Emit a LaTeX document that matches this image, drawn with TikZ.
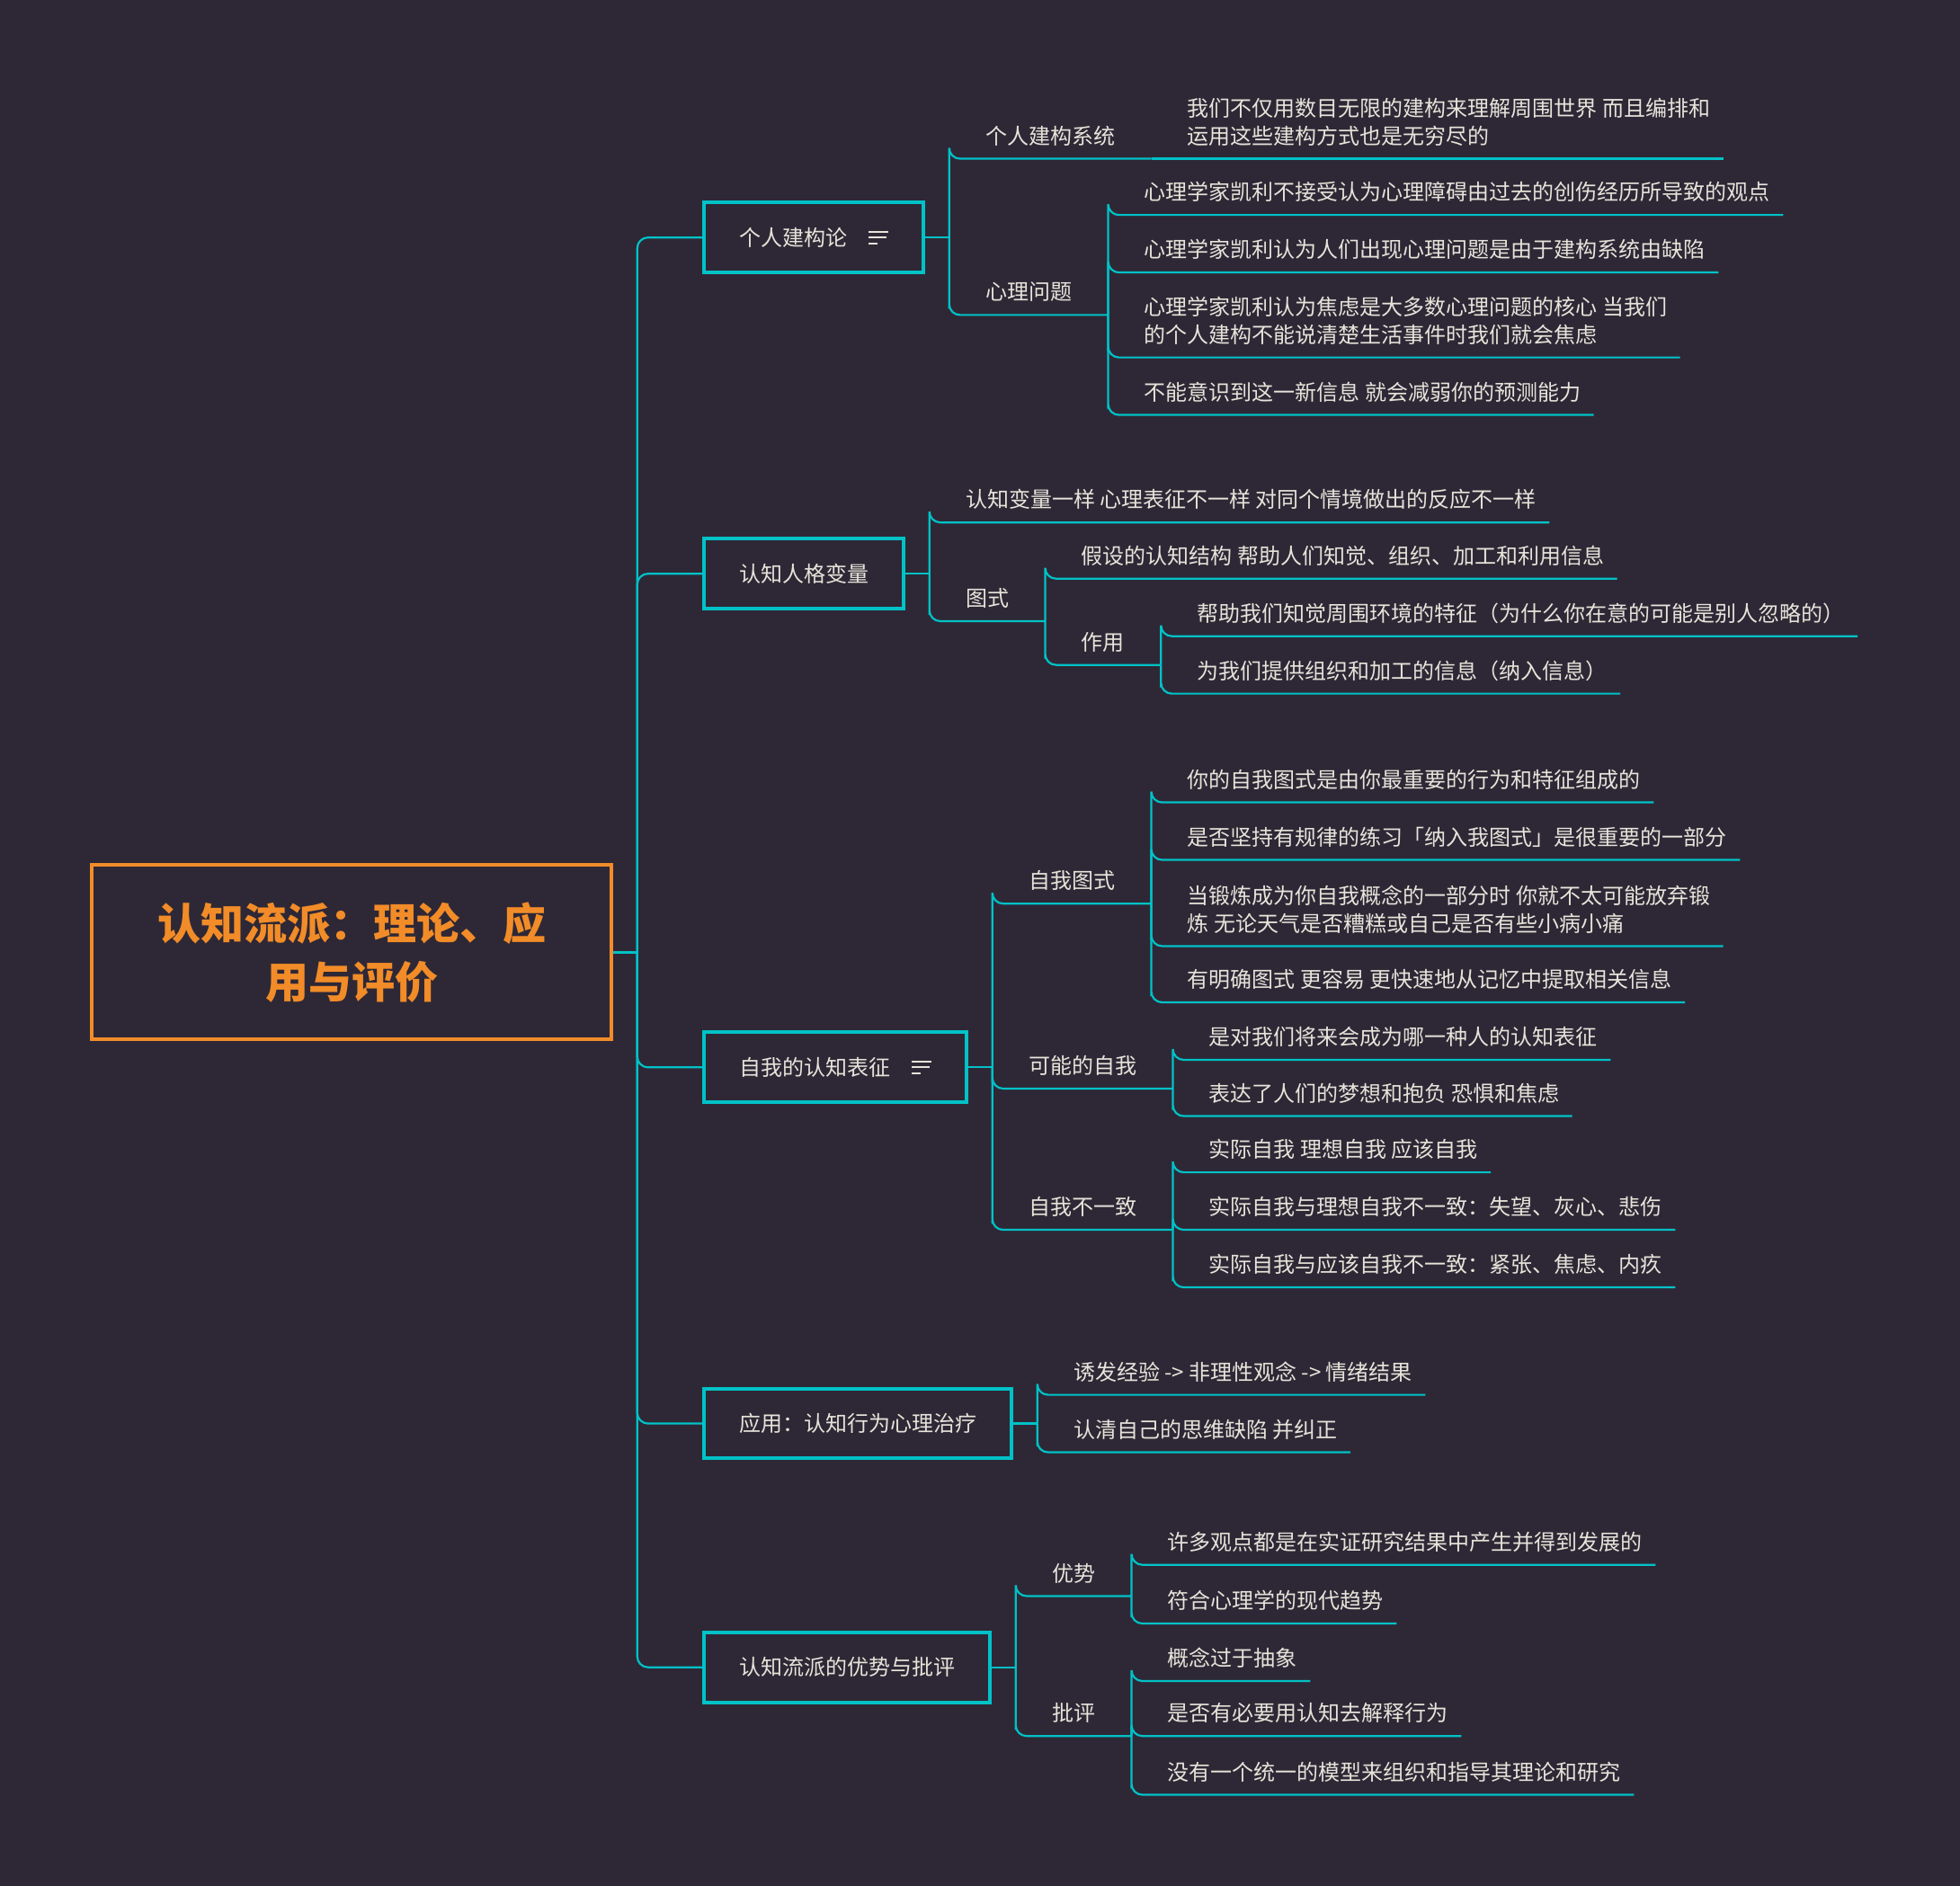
\documentclass[tikz,border=0pt]{standalone}
\usepackage{fontspec}
\setmainfont{Noto Sans CJK SC}
\usepackage{tikz}

\definecolor{bgpurple}{HTML}{2E2836}
\definecolor{branchteal}{HTML}{00C2C7}
\definecolor{rootorange}{HTML}{F28C28}
\definecolor{inkgray}{HTML}{E6E4DA}

% three-bar notes icon
\newcommand{\noteicon}{\raisebox{0.8pt}{\vbox{\hrule width 11pt height 1pt\vskip 2.3pt
  \hrule width 10pt height 1pt\vskip 2.3pt\hrule width 5pt height 1pt}}}

\begin{document}
\begin{tikzpicture}[x=0.6952pt,y=-0.6952pt,
      every node/.style={text=inkgray,font=\fontsize{12}{15.3}\selectfont},
      rootbox/.style={draw=rootorange,line width=2pt,minimum width=289pt,minimum height=97pt,
        align=center,text=rootorange,font=\fontsize{24}{32.7}\selectfont\bfseries},
      mainbox/.style={draw=branchteal,line width=2pt,anchor=west,minimum height=38.9pt,inner xsep=19.5pt},
      topic/.style={anchor=south west,inner xsep=20pt,inner ysep=5pt,text height=9pt,text depth=3pt,align=left},
      leaf/.style={topic,inner xsep=7pt,xshift=13pt},
      conn/.style={draw=branchteal,line width=1.1pt,rounded corners=6pt}]
    \fill[bgpurple] (0,0) rectangle (1568,1509);
    \useasboundingbox (0,0) rectangle (1568,1509);

    % root and trunk
    \node[rootbox] (root) at (281.5,762) {认知流派：理论、应\\用与评价};
    \coordinate (hub) at ([shift={(19,0)}]root.east);
    \draw[conn] (root.east) -- (hub);

    \node[mainbox] (b1) at (562,190) {个人建构论\quad\noteicon};
    \node[mainbox] (b2) at (562,459) {认知人格变量};
    \node[mainbox] (b3) at (562,854) {自我的认知表征\quad\noteicon};
    \node[mainbox] (b4) at (562,1139) {应用：认知行为心理治疗};
    \node[mainbox] (b5) at (562,1334) {认知流派的优势与批评};
    \foreach \b in {b1,b2,b3,b4,b5} {
      \draw[conn] (hub) |- (\b.west);
      \coordinate (j\b) at ([shift={(19,0)}]\b.east);
      \draw[conn] (\b.east) -- (j\b);
    }

    % 个人建构论
    \node[topic] (g1) at (jb1 |- 0,127) {个人建构系统};
    \node[leaf] (g1a) at (g1.south east) {我们不仅用数目无限的建构来理解周围世界 而且编排和\\运用这些建构方式也是无穷尽的};
    \node[topic] (g2) at (jb1 |- 0,252) {心理问题};
    \node[leaf] (g2a) at (g2.south east |- 0,172) {心理学家凯利不接受认为心理障碍由过去的创伤经历所导致的观点};
    \node[leaf] (g2b) at (g2.south east |- 0,218) {心理学家凯利认为人们出现心理问题是由于建构系统由缺陷};
    \node[leaf] (g2c) at (g2.south east |- 0,286) {心理学家凯利认为焦虑是大多数心理问题的核心 当我们\\的个人建构不能说清楚生活事件时我们就会焦虑};
    \node[leaf] (g2d) at (g2.south east |- 0,332) {不能意识到这一新信息 就会减弱你的预测能力};
    \foreach \c in {g1,g2}
      \draw[conn] (jb1) |- (\c.south west) -- (\c.south east);
    \draw[conn] (g1.south east) -- (g1a.south east);
    \foreach \c in {g2a,g2b,g2c,g2d}
      \draw[conn] (g2.south east) |- ([xshift=-13pt]\c.south west) -- (\c.south east);

    % 认知人格变量
    \node[leaf] (h1) at (jb2 |- 0,418) {认知变量一样 心理表征不一样 对同个情境做出的反应不一样};
    \node[topic] (h2) at (jb2 |- 0,497) {图式};
    \node[leaf] (h2a) at (h2.south east |- 0,463) {假设的认知结构 帮助人们知觉、组织、加工和利用信息};
    \node[topic] (h2b) at (h2.south east |- 0,532) {作用};
    \node[leaf] (h2b1) at (h2b.south east |- 0,509) {帮助我们知觉周围环境的特征（为什么你在意的可能是别人忽略的）};
    \node[leaf] (h2b2) at (h2b.south east |- 0,555) {为我们提供组织和加工的信息（纳入信息）};
    \draw[conn] (jb2) |- ([xshift=-13pt]h1.south west) -- (h1.south east);
    \draw[conn] (jb2) |- (h2.south west) -- (h2.south east);
    \draw[conn] (h2.south east) |- ([xshift=-13pt]h2a.south west) -- (h2a.south east);
    \draw[conn] (h2.south east) |- (h2b.south west) -- (h2b.south east);
    \foreach \c in {h2b1,h2b2}
      \draw[conn] (h2b.south east) |- ([xshift=-13pt]\c.south west) -- (\c.south east);

    % 自我的认知表征
    \node[topic] (k1) at (jb3 |- 0,723) {自我图式};
    \node[leaf] (k1a) at (k1.south east |- 0,642) {你的自我图式是由你最重要的行为和特征组成的};
    \node[leaf] (k1b) at (k1.south east |- 0,688) {是否坚持有规律的练习「纳入我图式」是很重要的一部分};
    \node[leaf] (k1c) at (k1.south east |- 0,757) {当锻炼成为你自我概念的一部分时 你就不太可能放弃锻\\炼 无论天气是否糟糕或自己是否有些小病小痛};
    \node[leaf] (k1d) at (k1.south east |- 0,802) {有明确图式 更容易 更快速地从记忆中提取相关信息};
    \node[topic] (k2) at (jb3 |- 0,871) {可能的自我};
    \node[leaf] (k2a) at (k2.south east |- 0,848) {是对我们将来会成为哪一种人的认知表征};
    \node[leaf] (k2b) at (k2.south east |- 0,893) {表达了人们的梦想和抱负 恐惧和焦虑};
    \node[topic] (k3) at (jb3 |- 0,984) {自我不一致};
    \node[leaf] (k3a) at (k3.south east |- 0,938) {实际自我 理想自我 应该自我};
    \node[leaf] (k3b) at (k3.south east |- 0,984) {实际自我与理想自我不一致：失望、灰心、悲伤};
    \node[leaf] (k3c) at (k3.south east |- 0,1030) {实际自我与应该自我不一致：紧张、焦虑、内疚};
    \foreach \c in {k1,k2,k3}
      \draw[conn] (jb3) |- (\c.south west) -- (\c.south east);
    \foreach \c in {k1a,k1b,k1c,k1d}
      \draw[conn] (k1.south east) |- ([xshift=-13pt]\c.south west) -- (\c.south east);
    \foreach \c in {k2a,k2b}
      \draw[conn] (k2.south east) |- ([xshift=-13pt]\c.south west) -- (\c.south east);
    \foreach \c in {k3a,k3b,k3c}
      \draw[conn] (k3.south east) |- ([xshift=-13pt]\c.south west) -- (\c.south east);

    % 应用
    \node[leaf] (m1) at (jb4 |- 0,1116) {诱发经验 -> 非理性观念 -> 情绪结果};
    \node[leaf] (m2) at (jb4 |- 0,1162) {认清自己的思维缺陷 并纠正};
    \foreach \c in {m1,m2}
      \draw[conn] (jb4) |- ([xshift=-13pt]\c.south west) -- (\c.south east);

    % 优势与批评
    \node[topic] (n1) at (jb5 |- 0,1277) {优势};
    \node[leaf] (n1a) at (n1.south east |- 0,1252) {许多观点都是在实证研究结果中产生并得到发展的};
    \node[leaf] (n1b) at (n1.south east |- 0,1299) {符合心理学的现代趋势};
    \node[topic] (n2) at (jb5 |- 0,1389) {批评};
    \node[leaf] (n2a) at (n2.south east |- 0,1345) {概念过于抽象};
    \node[leaf] (n2b) at (n2.south east |- 0,1389) {是否有必要用认知去解释行为};
    \node[leaf] (n2c) at (n2.south east |- 0,1436) {没有一个统一的模型来组织和指导其理论和研究};
    \foreach \c in {n1,n2}
      \draw[conn] (jb5) |- (\c.south west) -- (\c.south east);
    \foreach \c in {n1a,n1b}
      \draw[conn] (n1.south east) |- ([xshift=-13pt]\c.south west) -- (\c.south east);
    \foreach \c in {n2a,n2b,n2c}
      \draw[conn] (n2.south east) |- ([xshift=-13pt]\c.south west) -- (\c.south east);
  \end{tikzpicture}
\end{document}
